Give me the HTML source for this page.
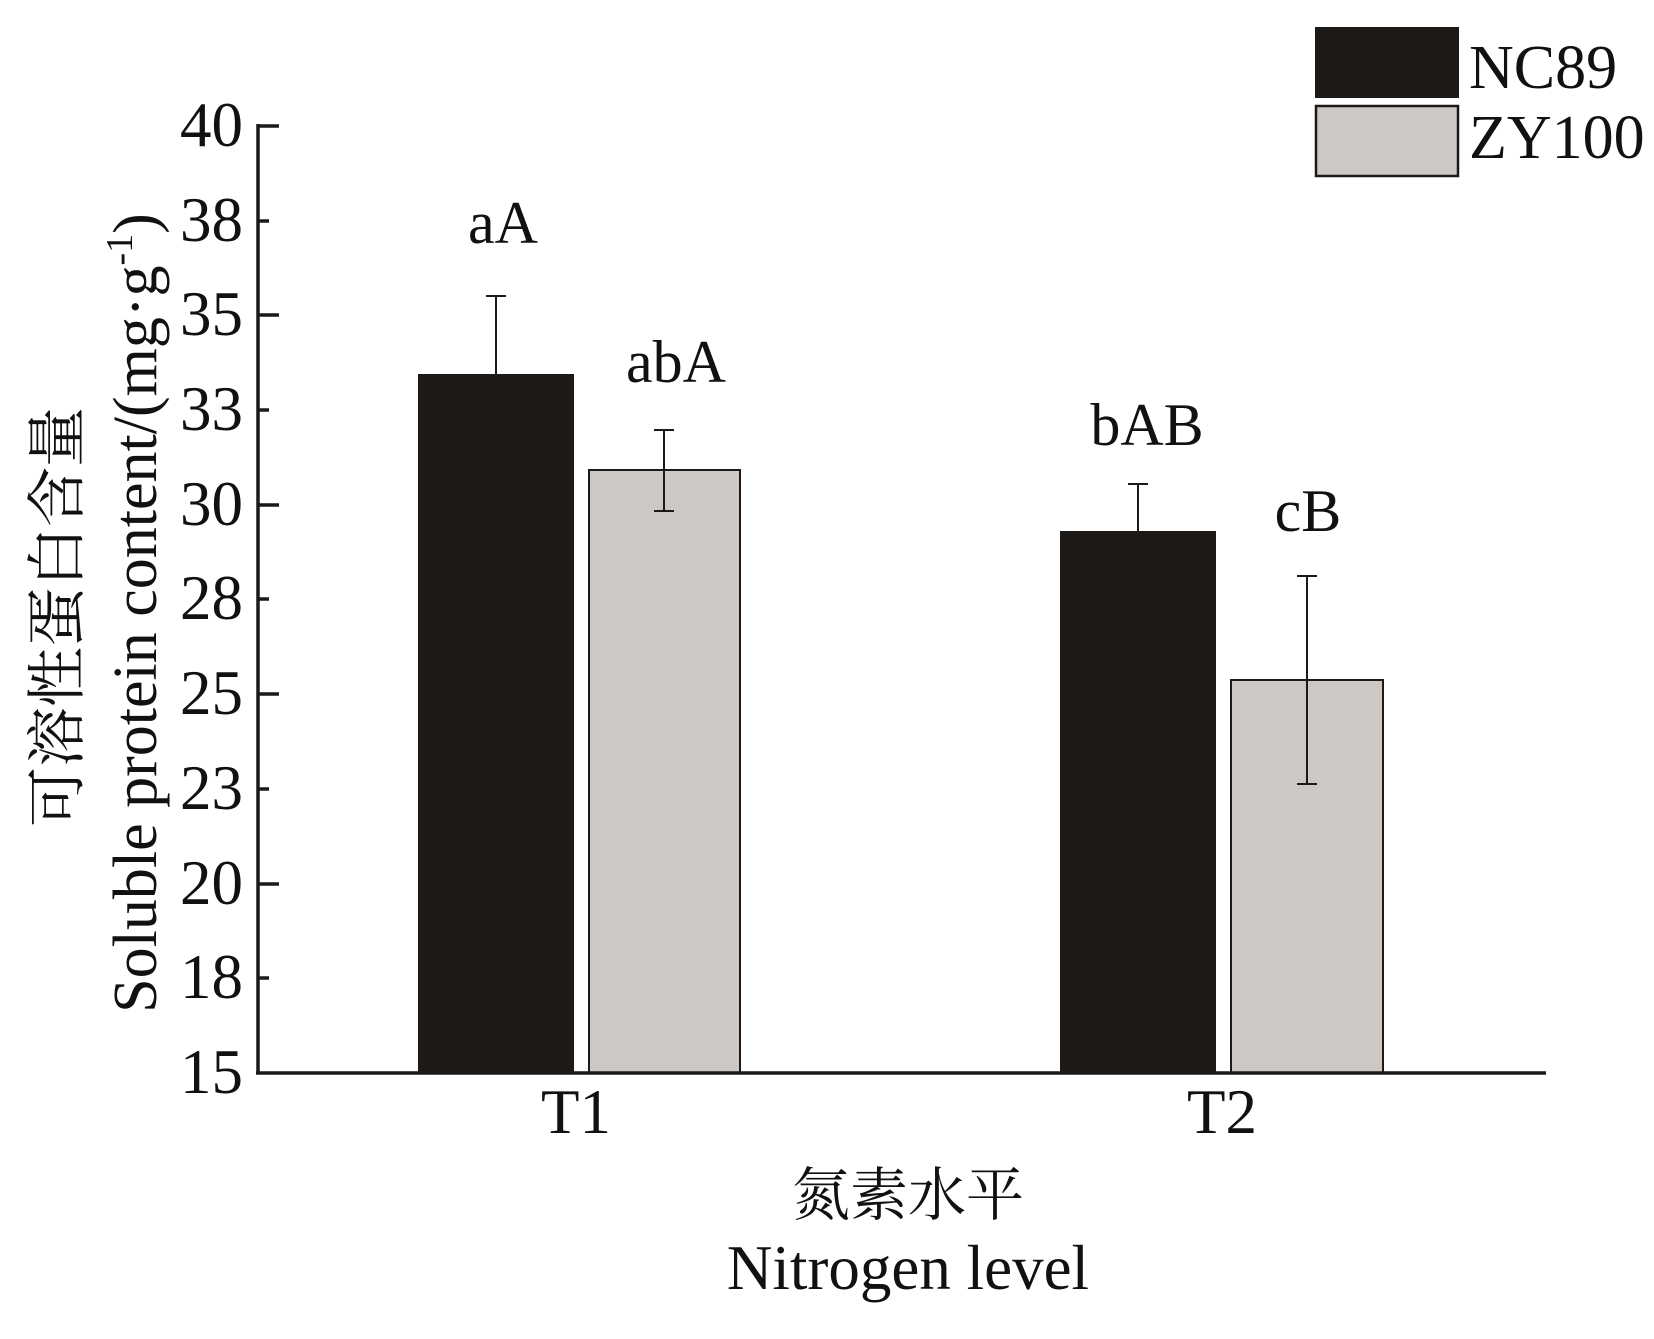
<!DOCTYPE html>
<html><head><meta charset="utf-8"><style>html,body{margin:0;padding:0;background:#fff}</style></head>
<body>
<svg width="1654" height="1334" xmlns="http://www.w3.org/2000/svg" font-family="Liberation Serif, Noto Serif CJK SC, serif" fill="#111">
<rect width="1654" height="1334" fill="#fff"/>
<rect x="419" y="375" width="154" height="698" fill="#1c1916" stroke="#1c1916" stroke-width="2"/>
<rect x="589" y="470" width="151" height="603" fill="#cec8c5" stroke="#1c1916" stroke-width="2"/>
<rect x="1061" y="532" width="154" height="541" fill="#1c1916" stroke="#1c1916" stroke-width="2"/>
<rect x="1231" y="680" width="152" height="393" fill="#cec8c5" stroke="#1c1916" stroke-width="2"/>
<g stroke="#1c1916" stroke-width="2">
<line x1="496" y1="296" x2="496" y2="375"/><line x1="486" y1="296" x2="506" y2="296"/>
<line x1="664" y1="430" x2="664" y2="511"/><line x1="654" y1="430" x2="674" y2="430"/><line x1="654" y1="511" x2="674" y2="511"/>
<line x1="1138" y1="484" x2="1138" y2="532"/><line x1="1128" y1="484" x2="1148" y2="484"/>
<line x1="1307" y1="576" x2="1307" y2="784"/><line x1="1297" y1="576" x2="1317" y2="576"/><line x1="1297" y1="784" x2="1317" y2="784"/>
</g>
<g stroke="#1c1916" stroke-width="3.5">
<line x1="258" y1="124" x2="258" y2="1074"/>
<line x1="256" y1="1073" x2="1546" y2="1073"/>
<line x1="258" y1="126" x2="279" y2="126"/>
<line x1="258" y1="221" x2="269" y2="221"/>
<line x1="258" y1="315" x2="279" y2="315"/>
<line x1="258" y1="410" x2="269" y2="410"/>
<line x1="258" y1="505" x2="279" y2="505"/>
<line x1="258" y1="599" x2="269" y2="599"/>
<line x1="258" y1="694" x2="279" y2="694"/>
<line x1="258" y1="789" x2="269" y2="789"/>
<line x1="258" y1="884" x2="279" y2="884"/>
<line x1="258" y1="978" x2="269" y2="978"/>
</g>
<g font-size="63" text-anchor="end">
<text x="243" y="146">40</text>
<text x="243" y="241">38</text>
<text x="243" y="335">35</text>
<text x="243" y="430">33</text>
<text x="243" y="525">30</text>
<text x="243" y="619">28</text>
<text x="243" y="714">25</text>
<text x="243" y="809">23</text>
<text x="243" y="904">20</text>
<text x="243" y="998">18</text>
<text x="243" y="1093">15</text>
</g>
<g font-size="63" text-anchor="middle">
<text x="576" y="1133">T1</text>
<text x="1222" y="1133">T2</text>
<text x="908" y="1215" font-size="58" font-family="Noto Serif CJK SC, serif">氮素水平</text>
<text x="908" y="1289">Nitrogen level</text>
</g>
<g font-size="60" text-anchor="middle">
<text x="503" y="243">aA</text>
<text x="676" y="382">abA</text>
<text x="1147" y="445">bAB</text>
<text x="1308" y="531">cB</text>
</g>
<text transform="translate(78,617) rotate(-90)" text-anchor="middle" font-size="60" font-family="Noto Serif CJK SC, serif">可溶性蛋白含量</text>
<text transform="translate(156,613) rotate(-90)" text-anchor="middle" font-size="62">Soluble protein content/(mg·g<tspan font-size="38" dy="-24">-1</tspan><tspan dy="24">)</tspan></text>
<rect x="1315" y="27" width="144" height="71" fill="#1c1916"/>
<rect x="1316" y="106" width="142" height="70" fill="#cec8c5" stroke="#1c1916" stroke-width="2.5"/>
<g font-size="62">
<text x="1469" y="88">NC89</text>
<text x="1469" y="158">ZY100</text>
</g>
</svg>
</body></html>
